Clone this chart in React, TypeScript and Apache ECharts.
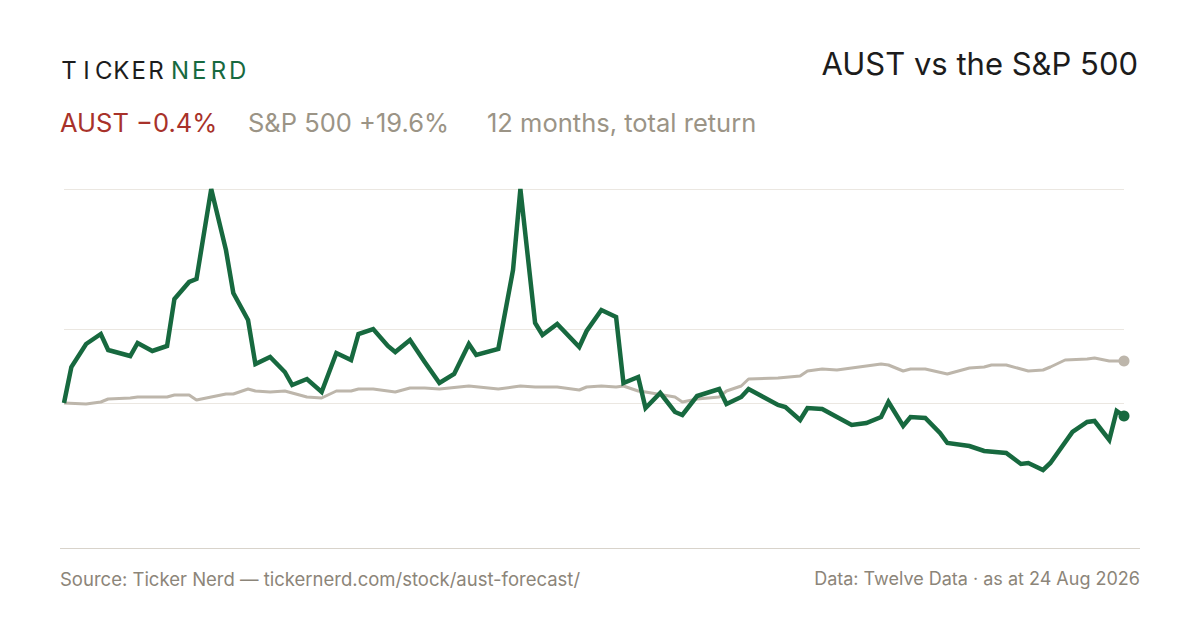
import { useEffect, useRef } from 'react';
import * as echarts from 'echarts';

// [trading-week index, relative return]
const austPoints: [number, number][] = [
  [0, 0], [1, 18], [3, 29.5], [5, 34.5], [6, 26.5], [9, 23.5], [10, 30], [12, 26], [14, 28.5],
  [15, 52], [17, 60.5], [18, 62], [20, 107], [22, 76.5], [23, 55], [25, 41.5], [26, 19.5],
  [28, 23], [30, 15.5], [31, 9], [33, 12], [35, 5.5], [37, 25], [39, 21.5], [40, 34.5],
  [42, 37], [44, 28.5], [45, 25.5], [47, 31.5], [49, 20.5], [51, 10], [53, 14.5], [55, 29.5],
  [56, 24], [59, 27], [61, 66.5], [62, 107], [64, 40], [65, 34], [67, 39.5], [70, 28],
  [71, 36], [73, 46.5], [75, 43], [76, 10], [78, 13], [79, -2.5], [81, 5], [83, -4.5],
  [84, -6], [86, 3.5], [89, 7], [90, -0.5], [92, 3], [93, 7], [95, 3], [97, -1], [98, -2],
  [100, -8.5], [101, -2.5], [103, -3], [105, -7], [107, -11], [109, -10], [111, -7],
  [112, 0.5], [114, -11.5], [115, -7], [117, -7.5], [119, -15], [120, -20], [123, -21.5],
  [125, -24], [128, -25], [130, -30.5], [131, -30], [133, -33.5], [134, -30], [137, -14.5],
  [139, -9.5], [140, -9], [142, -18.5], [143, -4], [144, -6.5],
];

const spxPoints: [number, number][] = [
  [0, 0], [3, -0.5], [5, 0.5], [6, 2], [9, 2.5], [10, 3], [14, 3], [15, 4], [17, 4], [18, 1.5],
  [20, 3], [22, 4.5], [23, 4.5], [25, 7], [26, 6], [28, 5.5], [30, 6], [31, 5], [33, 3],
  [35, 2.5], [37, 6], [39, 6], [40, 7], [42, 7], [45, 5.5], [47, 7.5], [49, 7.5], [51, 7],
  [55, 8.5], [59, 7], [61, 8], [62, 8.5], [64, 8], [67, 8], [70, 6.5], [71, 8], [73, 8.5],
  [75, 8], [76, 8.5], [78, 6], [79, 5.5], [83, 3], [84, 0.5], [86, 2], [89, 3], [90, 6],
  [92, 8.5], [93, 12], [97, 12.5], [100, 13.5], [101, 16], [103, 17], [105, 16.5], [111, 19.5],
  [112, 19], [114, 16], [115, 17], [117, 17], [120, 14.5], [123, 17.5], [125, 18], [126, 19],
  [128, 19], [130, 17], [131, 16], [133, 16.5], [134, 18], [136, 21.5], [139, 22], [140, 22.5],
  [142, 21], [143, 21], [144, 21],
];

const gridValues = [107, 37, 0];

const GREEN = '#17693f';
const GREY = '#bdb6ab';
const FONT = 'Inter, "Noto Sans", sans-serif';

// spaced-out wordmark, one centred glyph per text element
const logo = (word: string, cx0: number, step: number, fill: string) =>
  word.split('').map((ch, i) => ({
    type: 'text',
    x: cx0 + i * step,
    y: 70,
    style: { text: ch, font: `400 24px ${FONT}`, fill, align: 'center', verticalAlign: 'middle' },
  }));

const App = () => {
  const ref = useRef<HTMLDivElement>(null);

  useEffect(() => {
    if (!ref.current) return;
    const chart = echarts.init(ref.current, undefined, { renderer: 'svg' });
    const endDot = (n: number) => (_v: unknown, p: { dataIndex: number }) => (p.dataIndex === n - 1 ? 11 : 0);
    chart.setOption({
      animation: false,
      backgroundColor: '#ffffff',
      grid: { left: 64, right: 76, top: 189, bottom: 82 },
      xAxis: { type: 'value', min: 0, max: 144, show: false },
      yAxis: { type: 'value', min: -72.5, max: 107, show: false },
      graphic: [
        ...logo('TICKER', 69, 17.4, '#1c1c1c'),
        ...logo('NERD', 180, 19.2, GREEN),
        { type: 'text', right: 62, top: 48, style: { text: 'AUST vs the S&P 500', font: `400 31px ${FONT}`, fill: '#1c1c1c' } },
        { type: 'text', left: 60, top: 109, style: { text: 'AUST −0.4%', font: `400 25.5px ${FONT}`, fill: '#a8322a' } },
        { type: 'text', left: 248, top: 109, style: { text: 'S&P 500 +19.6%', font: `400 25.5px ${FONT}`, fill: '#9b9486' } },
        { type: 'text', left: 487, top: 109, style: { text: '12 months, total return', font: `400 25.5px ${FONT}`, fill: '#9b9486' } },
        { type: 'line', shape: { x1: 60, y1: 548.5, x2: 1140, y2: 548.5 }, style: { stroke: '#d8d3cb', lineWidth: 1 } },
        { type: 'text', left: 60, top: 569, style: { text: 'Source: Ticker Nerd — tickernerd.com/stock/aust-forecast/', font: `400 18.5px ${FONT}`, fill: '#8c8579' } },
        { type: 'text', right: 60, top: 569, style: { text: 'Data: Twelve Data · as at 24 Aug 2026', font: `400 18px ${FONT}`, fill: '#8c8579' } },
      ],
      series: [
        {
          name: 'S&P 500',
          type: 'line',
          data: spxPoints,
          symbol: 'circle',
          symbolSize: endDot(spxPoints.length),
          itemStyle: { color: GREY },
          lineStyle: { color: GREY, width: 3 },
          markLine: {
            silent: true,
            symbol: 'none',
            label: { show: false },
            lineStyle: { color: '#ebe7e1', width: 1, type: 'solid' },
            data: gridValues.map(v => ({ yAxis: v })),
            z: 0,
          },
        },
        {
          name: 'AUST',
          type: 'line',
          data: austPoints,
          symbol: 'circle',
          symbolSize: endDot(austPoints.length),
          itemStyle: { color: GREEN },
          lineStyle: { color: GREEN, width: 4.5, join: 'miter' },
        },
      ],
    });
    return () => chart.dispose();
  }, []);

  return <div ref={ref} style={{ position: 'absolute', left: 0, top: 0, width: 1200, height: 630 }} />;
};

export default App;
